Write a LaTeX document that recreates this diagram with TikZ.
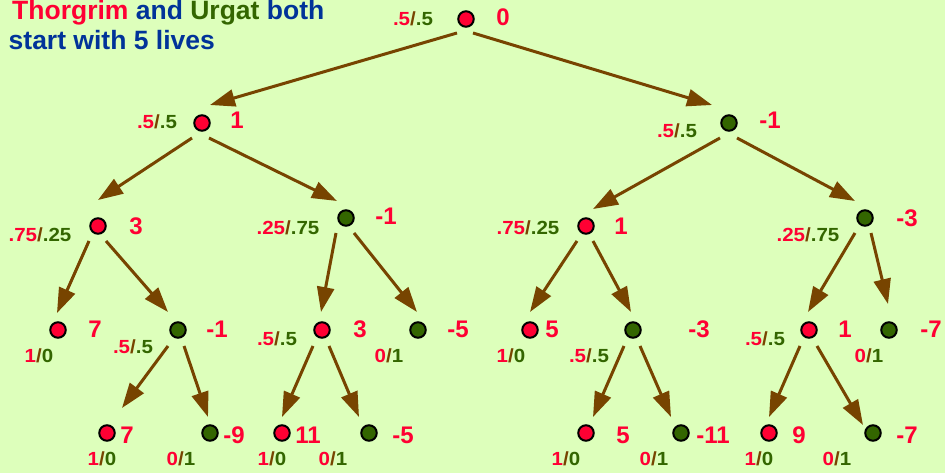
\documentclass[tikz,border=0pt]{standalone}
\usepackage{fontspec}
\setmainfont{Liberation Sans}
\newfontfamily\probfont[FakeStretch=1.08]{Liberation Sans}
\usetikzlibrary{arrows.meta,calc}
\definecolor{bgc}{HTML}{DDFFBB}
\definecolor{tred}{HTML}{FF0033}
\definecolor{tgreen}{HTML}{336600}
\definecolor{tblue}{HTML}{003399}
\definecolor{tbrown}{HTML}{774400}
\newcommand{\probl}[2]{\textcolor{tred}{#1}\textcolor{tbrown}{/}\textcolor{tgreen}{#2}}
\tikzset{
  rdot/.style={circle,draw=black,line width=2pt,fill=tred,minimum size=15.5pt,inner sep=0pt},
  gdot/.style={circle,draw=black,line width=2pt,fill=tgreen,minimum size=15.5pt,inner sep=0pt},
  val/.style={text=tred,font=\fontsize{24}{24}\selectfont\bfseries,inner sep=0pt,anchor=base},
  prb/.style={font=\probfont\fontsize{19}{19}\selectfont\bfseries,inner sep=0pt,anchor=base},
  ttl/.style={text=tblue,font=\fontsize{26.5}{26.5}\selectfont\bfseries,inner sep=0pt,anchor=base west},
  arr/.style={draw=tbrown,line width=3pt,-{Triangle[length=25pt 0 0,width=17pt 0 0]}}
}
\begin{document}
\begin{tikzpicture}[x=1pt,y=-1pt]
\fill[bgc] (0,0) rectangle (945,473);
\useasboundingbox (0,0) rectangle (945,473);
% title
\node[ttl] (t1) at (12,19.5) {\textcolor{tred}{Thorgrim} and \textcolor{tgreen}{Urgat} both};
\node[ttl] (t2) at (8.5,49.5) {start with 5 lives};
% nodes
\node[rdot] (r) at (466,19) {};
\node[rdot] (a) at (202,123) {};
\node[gdot] (b) at (729,123) {};
\node[rdot] (aa) at (98,226) {};
\node[gdot] (ab) at (346,218) {};
\node[rdot] (ba) at (586,226) {};
\node[gdot] (bb) at (865,218) {};
\node[rdot] (aaa) at (58,330) {};
\node[gdot] (aab) at (178,330) {};
\node[rdot] (aba) at (322,330) {};
\node[gdot] (abb) at (418,330) {};
\node[rdot] (baa) at (530,330) {};
\node[gdot] (bab) at (633,330) {};
\node[rdot] (bba) at (809,330) {};
\node[gdot] (bbb) at (889,330) {};
\node[rdot] (aaba) at (107,433) {};
\node[gdot] (aabb) at (210,433) {};
\node[rdot] (abaa) at (282,433) {};
\node[gdot] (abab) at (369,433) {};
\node[rdot] (baba) at (586,433) {};
\node[gdot] (babb) at (681,433) {};
\node[rdot] (bbaa) at (769,433) {};
\node[gdot] (bbab) at (873,433) {};
% values
\node[val] (vr) at (503,26) {0};
\node[val] (va) at (237,129) {1};
\node[val] (vb) at (770,129) {-1};
\node[val] (vaa) at (136,234) {3};
\node[val] (vab) at (386,225) {-1};
\node[val] (vba) at (621,234) {1};
\node[val] (vbb) at (907,226) {-3};
\node[val] (vaaa) at (95,337) {7};
\node[val] (vaab) at (217,337) {-1};
\node[val] (vaba) at (360,337) {3};
\node[val] (vabb) at (458,337) {-5};
\node[val] (vbaa) at (552,337) {5};
\node[val] (vbab) at (699,337) {-3};
\node[val] (vbba) at (845,337) {1};
\node[val] (vbbb) at (931,337) {-7};
\node[val] (vaaba) at (127,443) {7};
\node[val] (vaabb) at (234,443) {-9};
\node[val] (vabaa) at (308,443) {11};
\node[val] (vabab) at (403,443) {-5};
\node[val] (vbaba) at (623,443) {5};
\node[val] (vbabb) at (713,443) {-11};
\node[val] (vbbaa) at (799,443) {9};
\node[val] (vbbab) at (907,443) {-7};
% probabilities
\node[prb] (pr) at (413,26) {\probl{.5}{.5}};
\node[prb] (pa) at (157,129) {\probl{.5}{.5}};
\node[prb] (pb) at (677,138) {\probl{.5}{.5}};
\node[prb] (paa) at (40,242) {\probl{.75}{.25}};
\node[prb] (pab) at (288,234) {\probl{.25}{.75}};
\node[prb] (pba) at (528,234) {\probl{.75}{.25}};
\node[prb] (pbb) at (808,242) {\probl{.25}{.75}};
\node[prb] (paaa) at (39,362) {\probl{1}{0}};
\node[prb] (paab) at (133,353) {\probl{.5}{.5}};
\node[prb] (paba) at (277,345) {\probl{.5}{.5}};
\node[prb] (pabb) at (389,362) {\probl{0}{1}};
\node[prb] (pbaa) at (511,362) {\probl{1}{0}};
\node[prb] (pbab) at (589,362) {\probl{.5}{.5}};
\node[prb] (pbba) at (765,345) {\probl{.5}{.5}};
\node[prb] (pbbb) at (869,362) {\probl{0}{1}};
\node[prb] (paaba) at (102,465) {\probl{1}{0}};
\node[prb] (paabb) at (181,465) {\probl{0}{1}};
\node[prb] (pabaa) at (272,465) {\probl{1}{0}};
\node[prb] (pabab) at (333,465) {\probl{0}{1}};
\node[prb] (pbaba) at (566,465) {\probl{1}{0}};
\node[prb] (pbabb) at (654,465) {\probl{0}{1}};
\node[prb] (pbbaa) at (759,465) {\probl{1}{0}};
\node[prb] (pbbab) at (837,465) {\probl{0}{1}};
% edges
\draw[arr] ($(r)+(-9,14)$) -- ($(a)+(8,-18)$);
\draw[arr] ($(r)+(7,14)$) -- ($(b)+(-17,-18)$);
\draw[arr] ($(a)+(-10,15)$) -- ($(aa)+(0,-26)$);
\draw[arr] ($(a)+(7,15)$) -- ($(ab)+(-9,-17)$);
\draw[arr] ($(b)+(-9,15)$) -- ($(ba)+(7,-17)$);
\draw[arr] ($(b)+(8,15)$) -- ($(bb)+(-10,-17)$);
\draw[arr] ($(aa)+(-9,15)$) -- ($(aaa)+(-1,-17)$);
\draw[arr] ($(aa)+(8,15)$) -- ($(aab)+(-10,-18)$);
\draw[arr] ($(ab)+(-10,15)$) -- ($(aba)+(-1,-18)$);
\draw[arr] ($(ab)+(8,15)$) -- ($(abb)+(-1,-18)$);
\draw[arr] ($(ba)+(-9,15)$) -- ($(baa)+(0,-18)$);
\draw[arr] ($(ba)+(7,15)$) -- ($(bab)+(-2,-18)$);
\draw[arr] ($(bb)+(-10,15)$) -- ($(bba)+(-1,-18)$);
\draw[arr] ($(bb)+(6,15)$) -- ($(bbb)+(-1,-26)$);
\draw[arr] ($(aab)+(-10,16)$) -- ($(aaba)+(15,-25)$);
\draw[arr] ($(aab)+(6,16)$) -- ($(aabb)+(-2,-16)$);
\draw[arr] ($(aba)+(-9,16)$) -- ($(abaa)+(0,-16)$);
\draw[arr] ($(aba)+(7,16)$) -- ($(abab)+(-10,-16)$);
\draw[arr] ($(bab)+(-9,16)$) -- ($(baba)+(7,-16)$);
\draw[arr] ($(bab)+(7,16)$) -- ($(babb)+(-10,-16)$);
\draw[arr] ($(bba)+(-9,16)$) -- ($(bbaa)+(0,-16)$);
\draw[arr] ($(bba)+(8,16)$) -- ($(bbab)+(-10,-8)$);
\end{tikzpicture}
\end{document}
